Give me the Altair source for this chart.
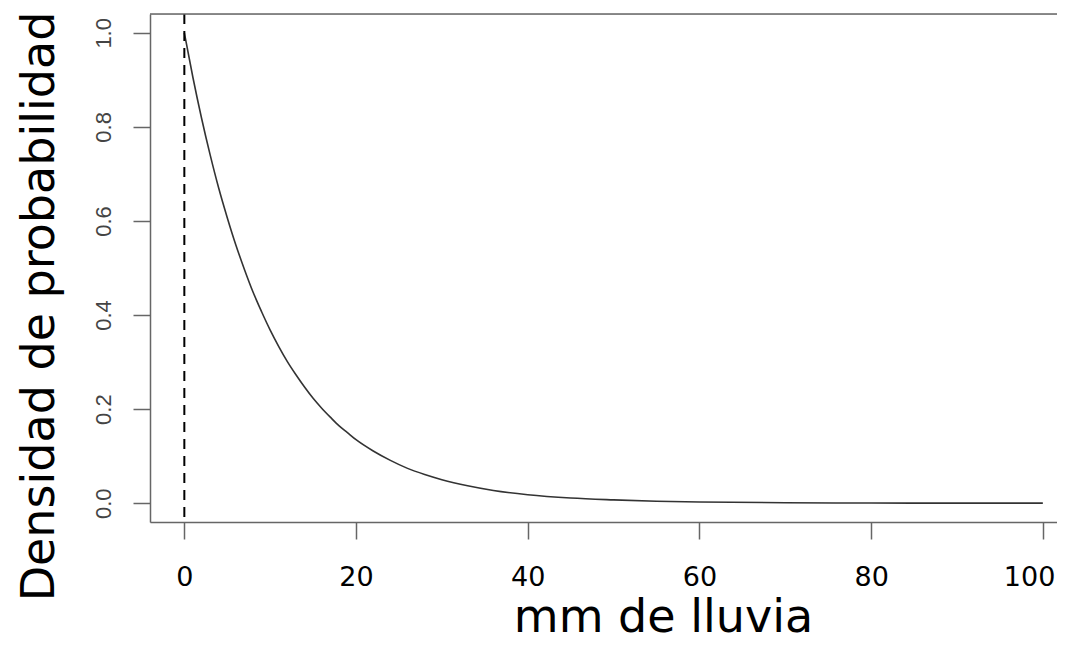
import altair as alt
import pandas as pd

# values
x_mm = [0, 1, 2, 3, 4, 5, 6, 7, 8, 9, 10, 11, 12, 13, 14, 15, 16, 17, 18, 19, 20,
        22, 24, 26, 28, 30, 33, 36, 40, 45, 50, 55, 60, 70, 80, 90, 100]
densidad = [1.000, 0.905, 0.819, 0.741, 0.670, 0.607, 0.549, 0.497, 0.449, 0.407,
            0.368, 0.333, 0.301, 0.273, 0.247, 0.223, 0.202, 0.183, 0.165, 0.150,
            0.135, 0.111, 0.091, 0.074, 0.061, 0.050, 0.037, 0.027, 0.018, 0.011,
            0.007, 0.004, 0.0025, 0.001, 0.0003, 0.0001, 0.00005]
vline_x = [0]
x_ticks = [0, 20, 40, 60, 80, 100]
y_ticks = [0.0, 0.2, 0.4, 0.6, 0.8, 1.0]

W = 907
H = 508
xs = alt.Scale(domain=[-4, 101.65], nice=False, zero=False)
ys = alt.Scale(domain=[-0.04, 1.04], nice=False, zero=False)

df = pd.DataFrame({"x": x_mm, "y": densidad})

x_axis = alt.Axis(
    values=x_ticks, format="d", grid=False,
    tickSize=17, tickColor="#666666", tickWidth=1.5,
    domainColor="#666666", domainWidth=1.5,
    labelFont="DejaVu Sans", labelFontSize=27, labelColor="#000000",
    labelPadding=25, labelBaseline="top",
    labelFlush=15, labelFlushOffset=12,
    title="mm de lluvia", titleFont="DejaVu Sans", titleFontSize=46,
    titleFontWeight="normal", titleColor="#000000",
    titleX=513, titleY=109, titleAlign="center", titleBaseline="alphabetic",
)
y_axis = alt.Axis(
    values=y_ticks, format=".1f", grid=False,
    tickSize=17, tickColor="#666666", tickWidth=1.5,
    domainColor="#666666", domainWidth=1.5,
    labelFont="Liberation Sans", labelFontSize=22, labelColor="#444444",
    labelAngle=270, labelAlign="center", labelBaseline="bottom",
    labelPadding=18, labelFlush=False,
    title="Densidad de probabilidad", titleFont="DejaVu Sans", titleFontSize=46,
    titleFontWeight="normal", titleColor="#000000", titleAngle=270,
    titleX=-97, titleY=292, titleAlign="center", titleBaseline="alphabetic",
)

curve = alt.Chart(df).mark_line(
    color="#333333", strokeWidth=1.6, interpolate="monotone", clip=True
).encode(
    x=alt.X("x:Q", scale=xs, axis=x_axis),
    y=alt.Y("y:Q", scale=ys, axis=y_axis),
)

vline = alt.Chart(pd.DataFrame({"x": vline_x})).mark_rule(
    color="#000000", strokeWidth=2, strokeDash=[10, 7]
).encode(
    x=alt.X("x:Q", scale=xs),
    y=alt.value(0),
    y2=alt.value(H),
)

top_border = alt.Chart(pd.DataFrame({"x": vline_x})).mark_rule(
    color="#666666", strokeWidth=1.5
).encode(
    x=alt.value(0), x2=alt.value(W), y=alt.value(0)
)

chart = alt.layer(curve, vline, top_border).properties(
    width=W, height=H,
    padding={"left": 142, "top": 6, "right": 0, "bottom": 119},
    autosize=alt.AutoSizeParams(type="none"),
).configure_view(stroke=None).configure(background="white")

chart.save("out.html", embed_options={"renderer": "svg", "actions": False})
